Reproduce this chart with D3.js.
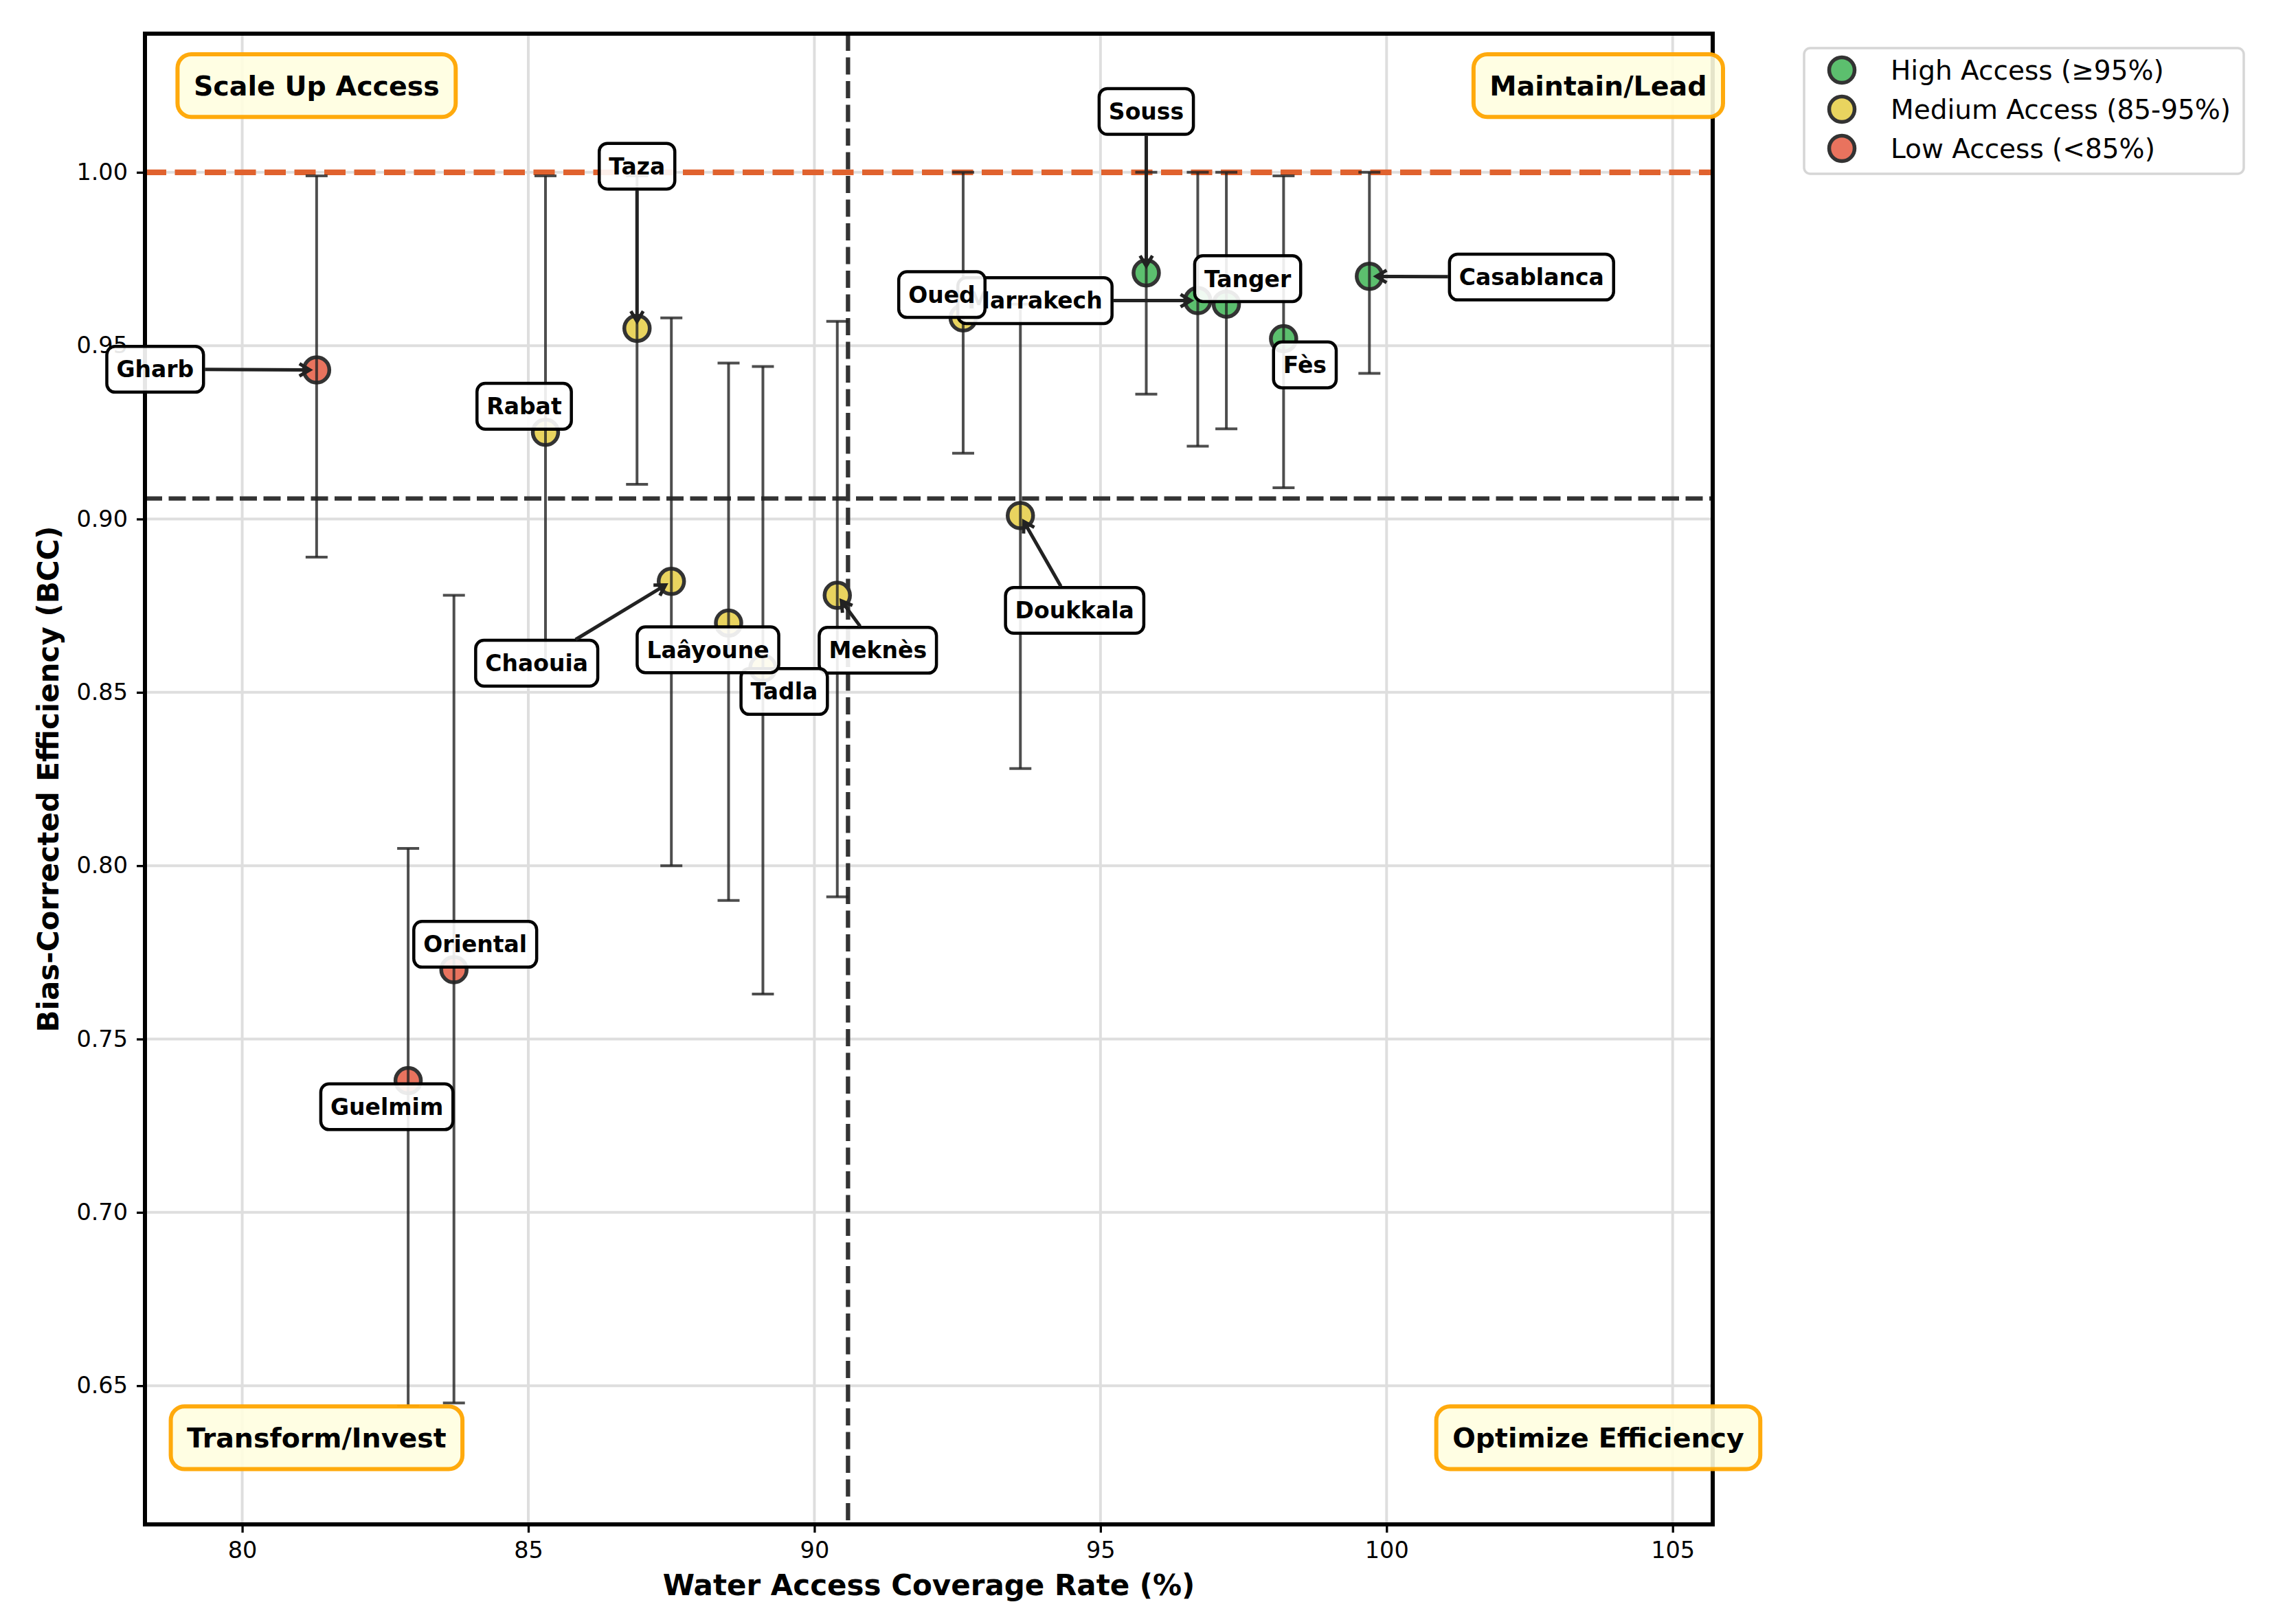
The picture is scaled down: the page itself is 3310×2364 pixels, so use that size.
<!DOCTYPE html>
<html><head><meta charset="utf-8">
<script src="https://cdn.jsdelivr.net/npm/d3@7"></script>
<style>
body{margin:0;background:#fff}
svg{display:block}
text{font-family:"DejaVu Sans","Noto Sans",sans-serif}
</style>
</head><body>
<svg id="chart" width="3310" height="2364"></svg>
<script>
// ---------------- DATA ----------------
const regions    = ["Casablanca","Rabat","Marrakech","Fès","Tanger","Souss","Meknès","Oued","Doukkala","Chaouia","Taza","Tadla","Gharb","Laâyoune","Oriental","Guelmim"];
const accessRate = [99.7, 85.3, 96.7, 98.2, 97.2, 95.8, 90.4, 92.6, 93.6, 87.5, 86.9, 89.1, 81.3, 88.5, 83.7, 82.9];
const efficiency = [0.970,0.925,0.963,0.952,0.962,0.971,0.878,0.958,0.901,0.882,0.955,0.857,0.943,0.870,0.770,0.738];
const ciLower    = [0.942,0.858,0.921,0.909,0.926,0.936,0.791,0.919,0.828,0.800,0.910,0.763,0.889,0.790,0.645,0.644];
const ciUpper    = [1.000,0.999,1.000,0.999,1.000,1.000,0.957,1.000,0.962,0.958,0.999,0.944,0.999,0.945,0.878,0.805];

const categories     = ["High Access (≥95%)", "Medium Access (85-95%)", "Low Access (<85%)"];
const categoryColors = ["#5cbf6e", "#e9d45f", "#e9735e"];
const quadrantLabels = ["Scale Up Access", "Maintain/Lead", "Transform/Invest", "Optimize Efficiency"];
const xTickValues = [80, 85, 90, 95, 100, 105];
const yTickValues = [0.65, 0.70, 0.75, 0.80, 0.85, 0.90, 0.95, 1.00];
const targetEfficiency = 1.0;
const xLabel = "Water Access Coverage Rate (%)";
const yLabel = "Bias-Corrected Efficiency (BCC)";

// label placement (pixel offsets of the label centre from its point)
const labelOffsets = [[236,1],[-31,-38],[-237,0],[31,38],[31,-37],[0,-235],[59,80],[-31,-34],[79,138],[-196,119],[0,-236],[31,34],[-235,-1],[-30,39],[31,-37],[-31,38]];

// ---------------- LAYOUT ----------------
const M = {left:211, top:49, right:2493, bottom:2219};
const svg = d3.select("#chart");
const x = d3.scaleLinear().domain([d3.min(accessRate)-3, d3.max(accessRate)+6]).range([M.left, M.right]);
const y = d3.scaleLinear().domain([0.61, 1.04]).range([M.bottom, M.top]);
const catIndex = a => a >= 95 ? 0 : (a >= 85 ? 1 : 2);

const data = regions.map((r,i)=>({name:r, a:accessRate[i], e:efficiency[i], lo:ciLower[i], hi:ciUpper[i], off:labelOffsets[i], c:catIndex(accessRate[i])}));

// grid
const g = svg.append("g");
g.selectAll("line.gx").data(xTickValues).join("line")
  .attr("x1",d=>x(d)).attr("x2",d=>x(d)).attr("y1",M.top).attr("y2",M.bottom)
  .attr("stroke","#dedede").attr("stroke-width",4);
g.selectAll("line.gy").data(yTickValues).join("line")
  .attr("y1",d=>y(d)).attr("y2",d=>y(d)).attr("x1",M.left).attr("x2",M.right)
  .attr("stroke","#dedede").attr("stroke-width",4);

// reference lines
const meanA = d3.mean(accessRate), meanE = d3.mean(efficiency);
g.append("line").attr("x1",M.left).attr("x2",M.right).attr("y1",y(targetEfficiency)).attr("y2",y(targetEfficiency))
  .attr("stroke","#e0622e").attr("stroke-width",8.3).attr("stroke-dasharray","31,12.5");
g.append("line").attr("x1",M.left).attr("x2",M.right).attr("y1",y(meanE)).attr("y2",y(meanE))
  .attr("stroke","#333").attr("stroke-width",6.3).attr("stroke-dasharray","25,9.5");
g.append("line").attr("x1",x(meanA)).attr("x2",x(meanA)).attr("y1",M.top).attr("y2",M.bottom)
  .attr("stroke","#333").attr("stroke-width",6.3).attr("stroke-dasharray","25,9.5");

// points
g.selectAll("circle.pt").data(data).join("circle")
  .attr("cx",d=>x(d.a)).attr("cy",d=>y(d.e)).attr("r",18.5)
  .attr("fill",d=>categoryColors[d.c]).attr("stroke","#333").attr("stroke-width",5.5);

// error bars
const eb = g.append("g").attr("stroke","#222").attr("stroke-opacity",0.8).attr("stroke-width",4);
data.forEach(d=>{
  const cx = x(d.a);
  eb.append("line").attr("x1",cx).attr("x2",cx).attr("y1",y(d.lo)).attr("y2",y(d.hi));
  eb.append("line").attr("x1",cx-16).attr("x2",cx+16).attr("y1",y(d.lo)).attr("y2",y(d.lo));
  eb.append("line").attr("x1",cx-16).attr("x2",cx+16).attr("y1",y(d.hi)).attr("y2",y(d.hi));
});

// spines
svg.append("rect").attr("x",M.left).attr("y",M.top).attr("width",M.right-M.left).attr("height",M.bottom-M.top)
  .attr("fill","none").attr("stroke","#000").attr("stroke-width",6);

// axes
const xa = svg.append("g").attr("transform",`translate(0,${M.bottom})`)
  .call(d3.axisBottom(x).tickValues(xTickValues).tickSize(12).tickPadding(13).tickFormat(d3.format("d")));
const ya = svg.append("g").attr("transform",`translate(${M.left},0)`)
  .call(d3.axisLeft(y).tickValues(yTickValues).tickSize(12).tickPadding(13).tickFormat(d3.format(".2f")));
[xa,ya].forEach(a=>{
  a.select(".domain").remove();
  a.selectAll(".tick line").attr("stroke","#000").attr("stroke-width",3.3);
  a.selectAll(".tick text").attr("fill","#000").style("font-size","33.5px").style("font-family","DejaVu Sans");
});

svg.append("text").attr("x",(M.left+M.right)/2).attr("y",2322).attr("text-anchor","middle")
  .style("font-size","42px").style("font-weight","bold").text(xLabel);
svg.append("text").attr("transform",`translate(85,${(M.top+M.bottom)/2}) rotate(-90)`).attr("text-anchor","middle")
  .style("font-size","42px").style("font-weight","bold").text(yLabel);

// annotations
const ann = svg.append("g");
const FS = 33, PAD = 14, BH = FS*1.17 + 2*PAD;
data.forEach(d=>{
  const px = x(d.a), py = y(d.e);
  const lx = px + d.off[0], ly = py + d.off[1];
  const grp = ann.append("g");
  const t = grp.append("text").attr("x",lx).attr("y",ly+FS*0.36).attr("text-anchor","middle")
    .style("font-size",FS+"px").style("font-weight","bold").attr("fill","#000").text(d.name);
  const tw = t.node().getComputedTextLength();
  const bw = tw + 2*PAD;
  grp.insert("rect","text").attr("x",lx-bw/2).attr("y",ly-BH/2).attr("width",bw).attr("height",BH)
    .attr("rx",12).attr("fill","#fff").attr("fill-opacity",0.9).attr("stroke","#000").attr("stroke-width",4.5);
  // arrow
  const dx = px-lx, dy = py-ly, len = Math.hypot(dx,dy);
  const tExit = Math.min(dx===0?Infinity:(bw/2)/Math.abs(dx), dy===0?Infinity:(BH/2)/Math.abs(dy));
  const sDist = tExit*len + 2, eDist = len - 10;
  if (eDist - sDist > 12) {
    const ux = dx/len, uy = dy/len;
    const sx = lx+ux*sDist, sy = ly+uy*sDist, ex = lx+ux*eDist, ey = ly+uy*eDist;
    const hl = 15, hw = 9;
    const bx = ex-ux*hl, by = ey-uy*hl;
    grp.append("path")
      .attr("d",`M${sx},${sy}L${ex},${ey}M${bx-uy*hw},${by+ux*hw}L${ex},${ey}L${bx+uy*hw},${by-ux*hw}`)
      .attr("fill","none").attr("stroke","#222").attr("stroke-width",5).attr("stroke-linejoin","miter");
  }
});

// quadrant labels
const xd = x.domain(), yd = y.domain();
const qpos = [[xd[0]+3, yd[1]-0.015],[xd[1]-2, yd[1]-0.015],[xd[0]+3, yd[0]+0.025],[xd[1]-2, yd[0]+0.025]];
const QF = 39.5, QP = 23.5, QH = QF*1.17 + 2*QP - 2;
quadrantLabels.forEach((q,i)=>{
  const cx = x(qpos[i][0]), cy = y(qpos[i][1]);
  const grp = svg.append("g");
  const t = grp.append("text").attr("x",cx).attr("y",cy+QF*0.36).attr("text-anchor","middle")
    .style("font-size",QF+"px").style("font-weight","bold").attr("fill","#000").text(q);
  const bw = t.node().getComputedTextLength() + 2*QP;
  grp.insert("rect","text").attr("x",cx-bw/2).attr("y",cy-QH/2).attr("width",bw).attr("height",QH)
    .attr("rx",20).attr("fill","#fffee0").attr("fill-opacity",0.9).attr("stroke","#ffa500").attr("stroke-opacity",0.95).attr("stroke-width",6);
});

// legend
const LF = 39;
const lg = svg.append("g").attr("transform",`translate(${M.right+133},70)`);
lg.append("rect").attr("x",0).attr("y",0).attr("width",640).attr("height",183).attr("rx",9)
  .attr("fill","#fff").attr("fill-opacity",0.8).attr("stroke","#d6d6d6").attr("stroke-width",3.5);
categories.forEach((c,i)=>{
  const cy = 32 + i*57;
  lg.append("circle").attr("cx",55).attr("cy",cy).attr("r",18.5).attr("fill",categoryColors[i])
    .attr("stroke","#333").attr("stroke-width",5.5);
  lg.append("text").attr("x",126).attr("y",cy+LF*0.36).style("font-size",LF+"px").attr("fill","#000").text(c);
});
</script>
</body></html>
